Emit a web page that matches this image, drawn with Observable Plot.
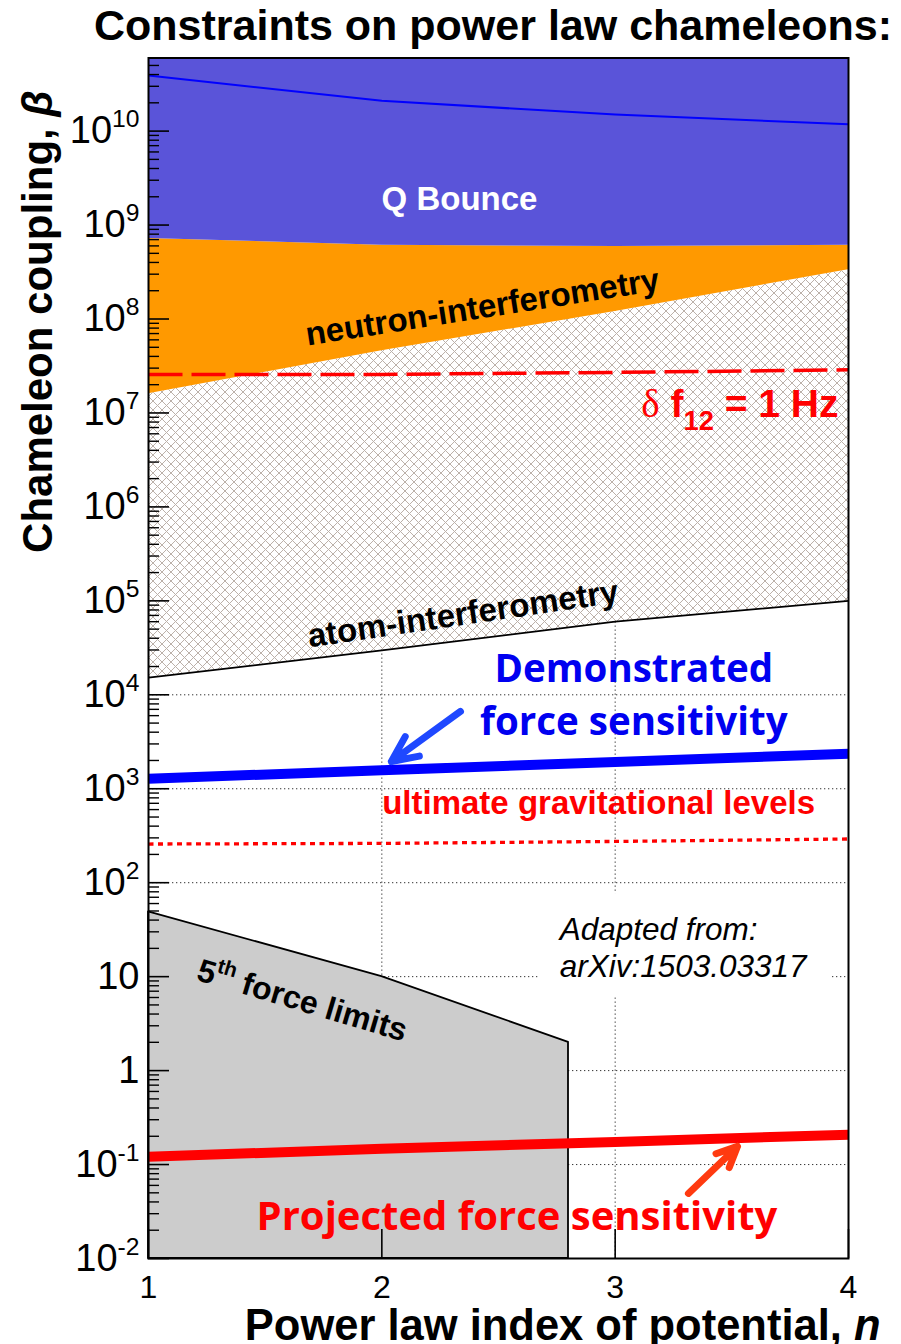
<!DOCTYPE html>
<html>
<head>
<meta charset="utf-8">
<script src="https://cdn.jsdelivr.net/npm/d3@7"></script>
<script src="https://cdn.jsdelivr.net/npm/@observablehq/plot@0.6"></script>
<style>
  body { margin: 0; background: #fff; width: 901px; }
  #title {
    height: 50px; line-height: 50px; white-space: nowrap;
    font-family: "Liberation Sans", Arial, sans-serif; font-weight: bold; font-size: 43px;
    text-align: center; padding-left: 85px; color: #000;
  }
  #chart svg { display: block; overflow: visible; }
</style>
</head>
<body>
<div id="title">Constraints on power law chameleons:</div>
<div id="chart"></div>
<script>
// ---- data: coupling limits vs. power-law index n ----
const nIndex = [1, 2, 3, 4];
const qBounceLine = [3.9e10, 2.1e10, 1.5e10, 1.18e10];   // Q Bounce limit curve
const qBounceLow = [7.2e8, 6.1e8, 5.9e8, 6.1e8];          // lower edge of the Q Bounce region
const neutronLow = [1.6e7, 4.6e7, 1.2e8, 3.35e8];         // neutron-interferometry limit
const atomLimit = [1.52e4, 2.97e4, 6.0e4, 1.0e5];         // atom-interferometry limit
const deltaF12 = [2.57e7, 2.57e7, 2.7e7, 2.88e7];         // δf12 = 1 Hz
const ultimateGrav = [258, 262, 275, 292];                // ultimate gravitational levels
const demonstrated = [1.28e3, 1.57e3, 1.93e3, 2.36e3];    // demonstrated force sensitivity
const projected = [0.121, 0.147, 0.174, 0.208];           // projected force sensitivity

const fifthN = [1, 2, 2.8];                               // 5th force limits
const fifthBeta = [49, 10, 2.0];

// axes
const xTicks = [1, 2, 3, 4];
const xTickLabels = ["1", "2", "3", "4"];
const yTicks = [1e-2, 1e-1, 1, 10, 1e2, 1e3, 1e4, 1e5, 1e6, 1e7, 1e8, 1e9, 1e10];
const yTickLabels = ["10^{-2}", "10^{-1}", "1", "10", "10^{2}", "10^{3}", "10^{4}", "10^{5}",
                     "10^{6}", "10^{7}", "10^{8}", "10^{9}", "10^{10}"];
const yDomain = [1e-2, 6e10];
const xGrid = [2, 3];
const yGrid = yTicks.slice(1);

// annotation anchors (n, β)
const qBounceAt = [{n: 2.333, b: 1.88e9}];
const neutronAt = [{n: 2.431, b: 1.33e8}];
const deltaAt = [{n: 3.957, b: 1.24e7}];
const atomAt = [{n: 2.348, b: 7.2e4}];
const demoAt = [{n: 3.08, b: 1.08e4}];
const ultimateAt = [{n: 2.929, b: 698}];
const noteAt = [{n: 2.762, b: 20.7}];
const noteBox = [{n1: 2.671, n2: 3.931, b1: 5.98, b2: 76.6}];
const fifthAt = [{n: 1.659, b: 5.53}];
const projAt = [{n: 2.579, b: 0.0272}];
const pointers = [
  {n1: 2.337, b1: 6.65e3, n2: 2.041, b2: 1.95e3, c: "#1f48ff"},
  {n1: 3.314, b1: 0.0493, n2: 3.524, b2: 0.156, c: "#ff3a10"}
];

// ---- layout ----
const W = 901, H = 1294;
const mL = 148, mR = 53, mT = 7.5, mB = 86;
const frameW = W - mL - mR, frameH = H - mT - mB;

const rows = nIndex.map((n, i) => ({
  n, qLine: qBounceLine[i], qLow: qBounceLow[i], neutron: neutronLow[i], atom: atomLimit[i],
  df: deltaF12[i], ult: ultimateGrav[i], demo: demonstrated[i], proj: projected[i]
}));
const fifthRows = fifthN.map((n, i) => ({n, b: fifthBeta[i]}));

const yMinor = [];
for (let e = -2; e <= 10; e++) for (let k = 2; k <= 9; k++) {
  const v = k * 10 ** e;
  if (v < yDomain[1]) yMinor.push(v);
}

const HELV = "Liberation Sans, Arial, Helvetica, sans-serif";
const CALI = "Open Sans, Lato, Carlito, Calibri, sans-serif";

const svg = Plot.plot({
  width: W, height: H,
  marginLeft: mL, marginRight: mR, marginTop: mT, marginBottom: mB,
  style: {fontFamily: HELV, background: "white", overflow: "visible"},
  x: {domain: [1, 4], axis: null},
  y: {type: "log", domain: yDomain, axis: null},
  marks: [
    // dotted grid
    Plot.ruleX(xGrid, {x: d => d, stroke: "#333", strokeWidth: 1, strokeDasharray: "1.3,2.7"}),
    Plot.ruleY(yGrid, {y: d => d, stroke: "#333", strokeWidth: 1, strokeDasharray: "1.3,2.7"}),

    // excluded regions
    Plot.areaY(rows, {x: "n", y1: "atom", y2: "neutron", fill: "url(#xhatch)"}),
    Plot.areaY(rows, {x: "n", y1: "neutron", y2: "qLow", fill: "#ff9900"}),
    Plot.areaY(rows, {x: "n", y1: "qLow", y2: () => yDomain[1], fill: "#5a54d9"}),
    Plot.lineY(rows, {x: "n", y: "qLine", stroke: "#0000ff", strokeWidth: 2, strokeLinecap: "butt"}),
    Plot.lineY(rows, {x: "n", y: "atom", stroke: "black", strokeWidth: 1.8, strokeLinecap: "butt"}),
    Plot.areaY(fifthRows, {x: "n", y1: () => yDomain[0], y2: "b", fill: "#cccccc",
                           stroke: "black", strokeWidth: 1.8}),

    // reference levels and sensitivities
    Plot.lineY(rows, {x: "n", y: "df", stroke: "#ff0000", strokeWidth: 3.5,
      strokeDasharray: "34,9", strokeLinecap: "butt"}),
    Plot.lineY(rows, {x: "n", y: "ult", stroke: "#ff0000", strokeWidth: 3.3,
      strokeDasharray: "5,4.5", strokeLinecap: "butt"}),
    Plot.lineY(rows, {x: "n", y: "demo", stroke: "#0000ff", strokeWidth: 10, strokeLinecap: "butt"}),
    Plot.lineY(rows, {x: "n", y: "proj", stroke: "#ff0000", strokeWidth: 10, strokeLinecap: "butt"}),

    // note box
    Plot.rect(noteBox, {x1: "n1", x2: "n2", y1: "b1", y2: "b2", fill: "white"}),

    // labels
    Plot.text(qBounceAt, {x: "n", y: "b", text: () => "Q Bounce", fill: "white",
      fontSize: 33, fontWeight: "bold"}),
    Plot.text(neutronAt, {x: "n", y: "b", text: () => "neutron-interferometry",
      fontSize: 33, fontWeight: "bold", rotate: -8.9}),
    Plot.text(deltaAt, {x: "n", y: "b", text: () => "~{δ} f_{12} = 1 Hz", fill: "#ff0000",
      fontSize: 39, fontWeight: "bold", textAnchor: "end"}),
    Plot.text(atomAt, {x: "n", y: "b", text: () => "atom-interferometry",
      fontSize: 33, fontWeight: "bold", rotate: -8.3}),
    Plot.text(demoAt, {x: "n", y: "b", text: () => "Demonstrated\nforce sensitivity", fill: "#0000f0",
      fontFamily: CALI, fontSize: 38.5, fontWeight: "bold", lineHeight: 1.36}),
    Plot.text(ultimateAt, {x: "n", y: "b", text: () => "ultimate gravitational levels", fill: "#ff0000",
      fontSize: 33, fontWeight: "bold"}),
    Plot.text(noteAt, {x: "n", y: "b", text: () => "Adapted from:\narXiv:1503.03317",
      fontSize: 31.5, fontStyle: "italic", textAnchor: "start", lineHeight: 1.16}),
    Plot.text(fifthAt, {x: "n", y: "b", text: () => "5^{th} force limits",
      fontSize: 32, fontWeight: "bold", rotate: 16.5}),
    Plot.text(projAt, {x: "n", y: "b", text: () => "Projected force sensitivity", fill: "#ff0000",
      fontFamily: CALI, fontSize: 40, fontWeight: "bold"}),

    Plot.arrow(pointers, {x1: "n1", y1: "b1", x2: "n2", y2: "b2", stroke: "c",
      strokeWidth: 7, headLength: 6.5, headAngle: 50, strokeLinecap: "round", strokeLinejoin: "round"}),

    // ticks (drawn inside the frame) and frame
    Plot.tickY(yMinor, {y: d => d, insetRight: frameW - 11, stroke: "black", strokeWidth: 1.4}),
    Plot.tickY(yTicks, {y: d => d, insetRight: frameW - 21, stroke: "black", strokeWidth: 1.6}),
    Plot.tickX(xTicks, {x: d => d, insetTop: frameH - 29, stroke: "black", strokeWidth: 1.6}),
    Plot.frame({stroke: "black", strokeWidth: 2}),

    // tick labels
    Plot.axisY(yTicks, {anchor: "left", tickSize: 0, tickPadding: 9, label: null,
      tickFormat: d => yTickLabels[yTicks.indexOf(d)], fontSize: 38, fontFamily: HELV}),
    Plot.axisX(xTicks, {anchor: "bottom", tickSize: 0, tickPadding: 17, label: null,
      tickFormat: d => xTickLabels[xTicks.indexOf(d)], fontSize: 32, fontFamily: HELV}),

    // axis titles
    Plot.text(["Chameleon coupling, *{β}"], {frameAnchor: "top-left", text: d => d,
      rotate: -90, textAnchor: "end", lineAnchor: "middle", dx: -110, dy: 32.5,
      fontSize: 42, fontWeight: "bold"}),
    Plot.text(["Power law index of potential, *{n}"], {frameAnchor: "bottom-right", text: d => d,
      textAnchor: "end", lineAnchor: "bottom", dx: 32, dy: 81.5,
      fontSize: 43.5, fontWeight: "bold"})
  ]
});

// crosshatch fill for the excluded band
const NS = "http://www.w3.org/2000/svg";
const defs = document.createElementNS(NS, "defs");
const pat = document.createElementNS(NS, "pattern");
pat.setAttribute("id", "xhatch");
pat.setAttribute("patternUnits", "userSpaceOnUse");
pat.setAttribute("width", 9);
pat.setAttribute("height", 9);
const bg = document.createElementNS(NS, "rect");
bg.setAttribute("width", 9); bg.setAttribute("height", 9); bg.setAttribute("fill", "white");
const hp = document.createElementNS(NS, "path");
hp.setAttribute("d", "M0,0L9,9M9,0L0,9");
hp.setAttribute("stroke", "#bcb1a9");
hp.setAttribute("stroke-width", "1");
pat.appendChild(bg); pat.appendChild(hp);
defs.appendChild(pat);
svg.insertBefore(defs, svg.firstChild);

document.getElementById("chart").appendChild(svg);

// rich text: ^{sup}, _{sub}, *{italic}, ~{serif}
function richText(root) {
  const pattern = /([\^_*~]\{[^}]*\})/;
  for (const t of root.querySelectorAll("text")) {
    const spans = t.querySelectorAll("tspan");
    const targets = spans.length ? [...spans] : [t];
    for (const el of targets) {
      const s = el.textContent;
      if (!pattern.test(s)) continue;
      const size = parseFloat(getComputedStyle(el).fontSize);
      el.textContent = "";
      let shift = 0;
      for (const part of s.split(pattern)) {
        if (!part) continue;
        const span = document.createElementNS(NS, "tspan");
        let target = 0;
        if (/^[\^_*~]\{/.test(part)) {
          const kind = part[0];
          span.textContent = part.slice(2, -1);
          if (kind === "^") { span.setAttribute("font-size", 0.65 * size); target = -0.42 * size; }
          else if (kind === "_") { span.setAttribute("font-size", 0.7 * size); target = 0.34 * size; }
          else if (kind === "*") { span.setAttribute("font-style", "italic"); }
          else { span.setAttribute("font-family", "Liberation Serif, Times New Roman, serif"); span.setAttribute("font-weight", "normal"); }
        } else {
          span.textContent = part;
        }
        if (target !== shift) { span.setAttribute("dy", target - shift); shift = target; }
        el.appendChild(span);
      }
    }
  }
}
richText(svg);
</script>
</body>
</html>
